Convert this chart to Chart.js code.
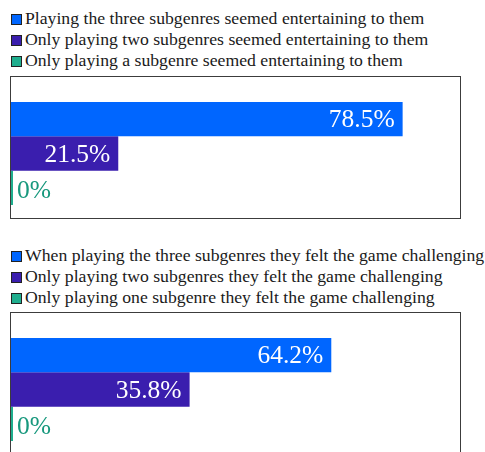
<!DOCTYPE html>
<html>
<head>
<meta charset="utf-8">
<script src="https://cdn.jsdelivr.net/npm/chart.js@4"></script>
<style>
  html, body { margin: 0; padding: 0; background: #fff; overflow: hidden; }
  body { width: 485px; height: 452px; position: relative; font-family: "Liberation Serif", "Times New Roman", serif; }
  .legend { position: absolute; left: 11px; }
  .legend .row { position: relative; height: 21px; line-height: 21px; font-size: 17.7px; color: #1a1a1a; white-space: nowrap; padding-left: 14px; }
  .legend .box { position: absolute; left: 0; top: 6.5px; box-sizing: border-box; width: 11px; height: 11px; border: 1px solid #222; }
  .plot { position: absolute; left: 10px; }
</style>
</head>
<body>
<div class="legend" id="legend1" style="top:7.5px"></div>
<canvas class="plot" id="chart1" width="451" height="143" style="top:76px"></canvas>
<div class="legend" id="legend2" style="top:244.5px"></div>
<canvas class="plot" id="chart2" width="451" height="143" style="top:312px"></canvas>
<script>
// Survey answers: share of players (%) per number of subgenres
const entertainingLabels = [
  'Playing the three subgenres seemed entertaining to them',
  'Only playing two subgenres seemed entertaining to them',
  'Only playing a subgenre seemed entertaining to them'
];
const entertainingValues = [78.5, 21.5, 0];

const challengingLabels = [
  'When playing the three subgenres they felt the game challenging',
  'Only playing two subgenres they felt the game challenging',
  'Only playing one subgenre they felt the game challenging'
];
const challengingValues = [64.2, 35.8, 0];

const axisMax = 90;

const seriesColors = ['#0066ff', '#3a1eae', '#1fae8e'];
const zeroLabelColor = '#17987d';
const labelFont = '25.5px "Liberation Serif"';

// Thin frame around the whole plot canvas
const framePlugin = {
  id: 'frame',
  afterDraw(chart) {
    const ctx = chart.ctx;
    ctx.save();
    ctx.strokeStyle = '#3c3c3c';
    ctx.lineWidth = 1;
    ctx.strokeRect(0.5, 0.5, chart.width - 1, chart.height - 1);
    ctx.restore();
  }
};

// Percentage labels: white inside the bar end, or coloured beside an empty bar
const valueLabelPlugin = {
  id: 'valueLabels',
  afterDatasetsDraw(chart) {
    const ctx = chart.ctx;
    ctx.save();
    ctx.textBaseline = 'alphabetic';
    ctx.font = labelFont;
    chart.data.datasets.forEach((ds, i) => {
      const meta = chart.getDatasetMeta(i);
      meta.data.forEach((bar, j) => {
        const v = ds.data[j];
        const txt = v + '%';
        if (v > 0) {
          ctx.fillStyle = '#ffffff';
          ctx.textAlign = 'right';
          ctx.fillText(txt, bar.x - 8, bar.y + 8);
        } else {
          ctx.fillStyle = zeroLabelColor;
          ctx.textAlign = 'left';
          ctx.fillText(txt, bar.x + 4, bar.y + 10.5);
        }
      });
    });
    ctx.restore();
  }
};

function buildLegend(el, labels) {
  labels.forEach((text, i) => {
    const row = document.createElement('div');
    row.className = 'row';
    const box = document.createElement('span');
    box.className = 'box';
    box.style.background = seriesColors[i];
    row.appendChild(box);
    row.appendChild(document.createTextNode(text));
    el.appendChild(row);
  });
}

function buildChart(canvas, labels, values) {
  return new Chart(canvas, {
    type: 'bar',
    data: {
      labels: [''],
      datasets: labels.map((label, i) => ({
        label: label,
        data: [values[i]],
        backgroundColor: seriesColors[i],
        borderWidth: 0,
        minBarLength: 2,
        barPercentage: 1,
        categoryPercentage: 0.8
      }))
    },
    options: {
      indexAxis: 'y',
      responsive: false,
      devicePixelRatio: 1,
      animation: false,
      layout: { padding: { top: 13, left: 1, right: 1, bottom: 1 } },
      scales: {
        x: { min: 0, max: axisMax, display: false },
        y: { display: false }
      },
      plugins: {
        legend: { display: false },
        tooltip: { enabled: false }
      }
    },
    plugins: [valueLabelPlugin, framePlugin]
  });
}

buildLegend(document.getElementById('legend1'), entertainingLabels);
buildLegend(document.getElementById('legend2'), challengingLabels);
buildChart(document.getElementById('chart1'), entertainingLabels, entertainingValues);
buildChart(document.getElementById('chart2'), challengingLabels, challengingValues);
</script>
</body>
</html>
